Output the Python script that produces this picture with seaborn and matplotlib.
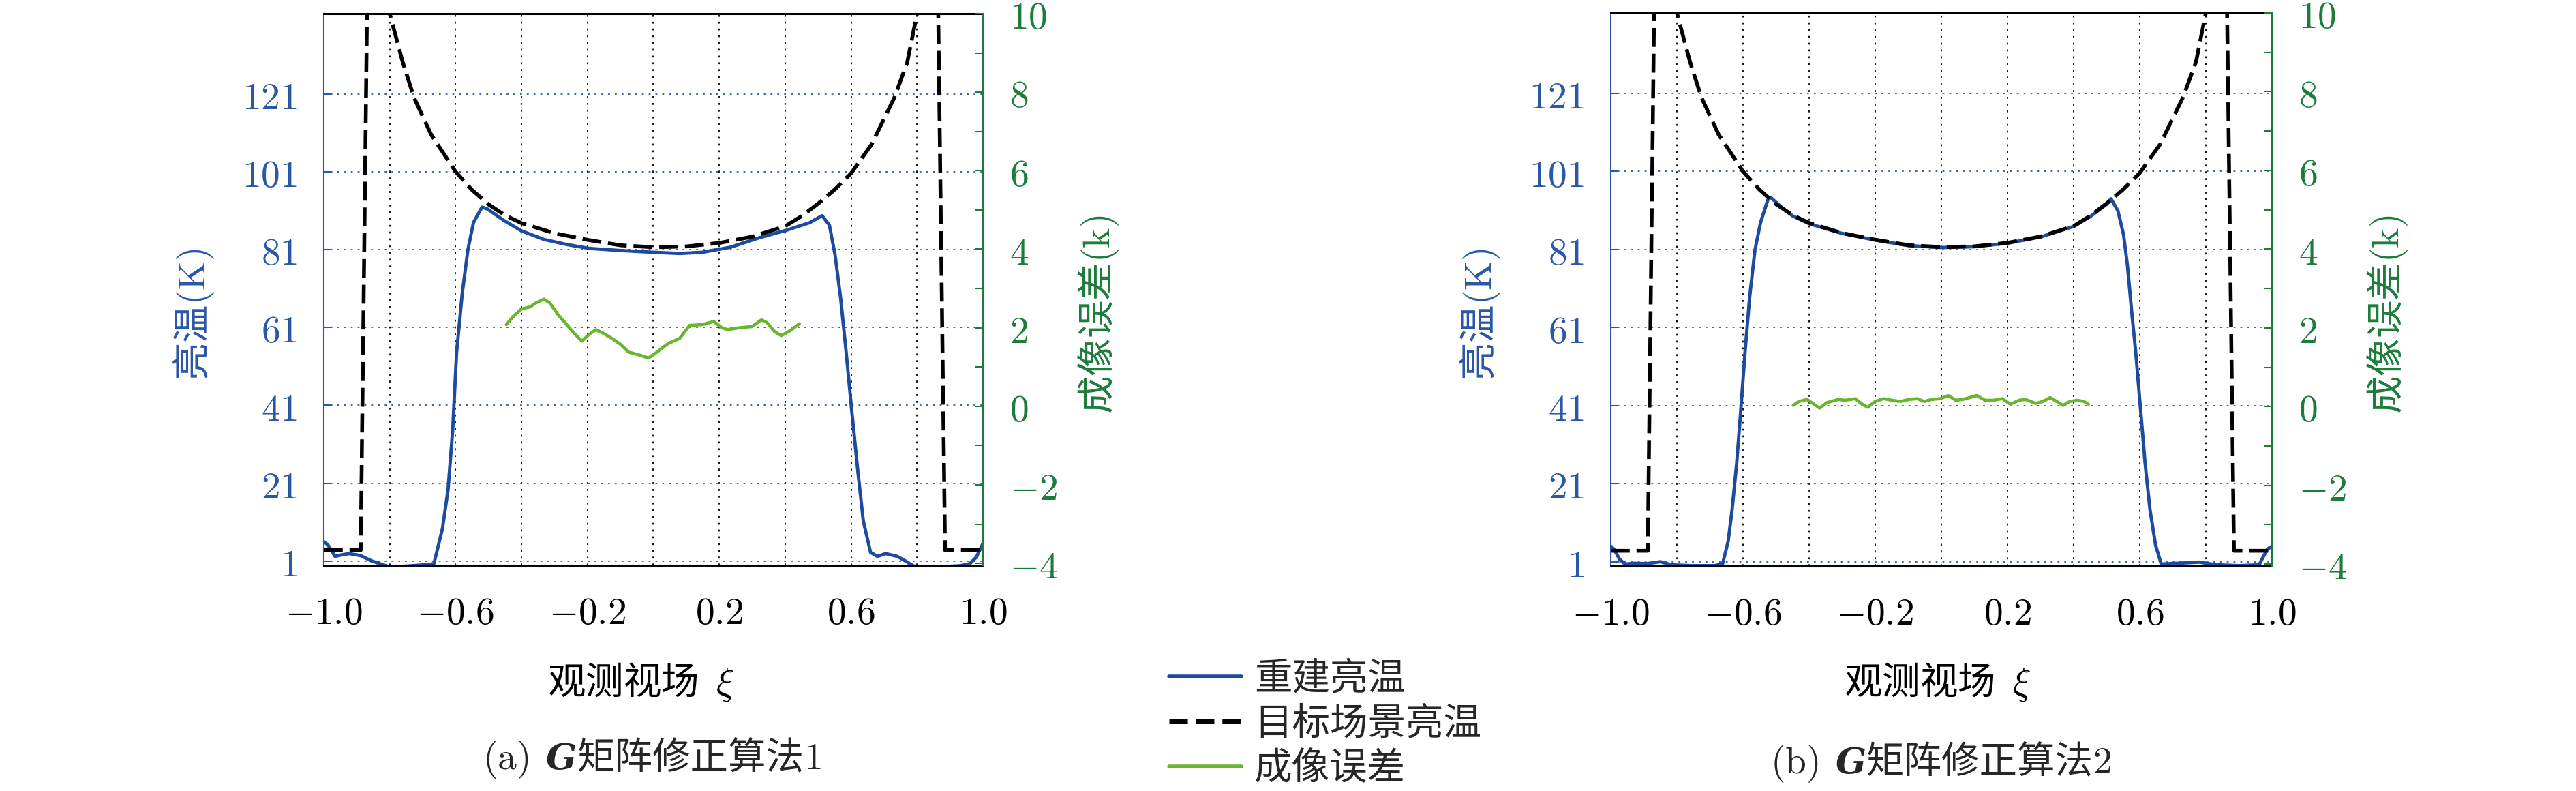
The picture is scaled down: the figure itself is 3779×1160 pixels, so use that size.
import matplotlib
matplotlib.use("Agg")
import matplotlib.pyplot as plt
from matplotlib.lines import Line2D
from matplotlib.offsetbox import TextArea, HPacker, AnnotationBbox
import seaborn as sns

# =========================
# Data
# =========================
# target scene brightness temperature (same scene in both panels)
target_x = [-1.0, -0.95, -0.888, -0.865, -0.80, -0.76, -0.726, -0.674, -0.60, -0.55,
            -0.50, -0.45, -0.40, -0.30, -0.20, -0.10, 0.00, 0.10, 0.20, 0.30,
            0.40, 0.45, 0.50, 0.55, 0.60, 0.662, 0.731, 0.77, 0.80, 0.86,
            0.885, 0.95, 1.0]
target_y = [3.8, 3.8, 3.8, 170.0, 141.6, 129.0, 120.0, 110.5, 101.0, 96.3,
            92.6, 89.8, 87.8, 85.2, 83.5, 82.1, 81.6, 81.8, 82.7, 84.3,
            87.0, 89.6, 92.8, 96.4, 100.6, 108.0, 120.0, 129.0, 141.6, 170.0,
            3.8, 3.8, 3.8]

# (a) reconstructed brightness temperature
recon_a_x = [-1.0, -0.988, -0.966, -0.945, -0.923, -0.889, -0.854, -0.80, -0.75, -0.70,
             -0.666, -0.64, -0.623, -0.609, -0.597, -0.58, -0.563, -0.546, -0.52, -0.503,
             -0.452, -0.40, -0.332, -0.263, -0.195, -0.109, 0.0, 0.08, 0.148, 0.234,
             0.32, 0.405, 0.474, 0.512, 0.534, 0.551, 0.568, 0.585, 0.602, 0.62,
             0.637, 0.659, 0.68, 0.705, 0.74, 0.765, 0.79, 0.85, 0.93, 0.96,
             0.98, 1.0]
recon_a_y = [6.0, 5.2, 2.2, 2.6, 2.9, 2.4, 1.0, -0.5, -0.3, 0.0,
             0.3, 9.3, 19.3, 34.5, 54.6, 69.7, 80.8, 87.9, 91.9, 91.4,
             88.4, 85.8, 83.6, 82.3, 81.3, 80.8, 80.3, 80.0, 80.3, 81.6,
             84.0, 86.0, 87.9, 89.7, 87.3, 79.8, 68.7, 54.6, 39.5, 24.4,
             11.3, 3.2, 2.2, 2.9, 2.2, 1.0, -0.3, -0.6, -0.2, 0.3,
             2.0, 5.5]

# (a) imaging error
err_a_x = [-0.446, -0.426, -0.40, -0.374, -0.357, -0.332, -0.314, -0.289, -0.263, -0.237,
           -0.217, -0.195, -0.174, -0.152, -0.126, -0.10, -0.075, -0.04, -0.015, 0.011,
           0.045, 0.08, 0.11, 0.148, 0.183, 0.208, 0.225, 0.26, 0.299, 0.328,
           0.345, 0.368, 0.388, 0.414, 0.443]
err_a_y = [2.08, 2.28, 2.48, 2.53, 2.63, 2.73, 2.63, 2.33, 2.08, 1.83,
           1.66, 1.83, 1.95, 1.86, 1.73, 1.58, 1.38, 1.30, 1.23, 1.38,
           1.60, 1.73, 2.06, 2.08, 2.16, 2.00, 1.95, 2.00, 2.03, 2.20,
           2.13, 1.90, 1.80, 1.92, 2.10]

# (b) reconstructed brightness temperature
recon_b_x = [-1.0, -0.99, -0.974, -0.957, -0.927, -0.892, -0.85, -0.816, -0.756, -0.687,
             -0.662, -0.645, -0.633, -0.619, -0.607, -0.594, -0.58, -0.564, -0.547, -0.525,
             -0.517, -0.482, -0.45, -0.40, -0.30, -0.20, -0.10, 0.0, 0.10, 0.20,
             0.30, 0.40, 0.45, 0.50, 0.513, 0.534, 0.551, 0.563, 0.576, 0.588,
             0.602, 0.616, 0.631, 0.648, 0.665, 0.713, 0.781, 0.833, 0.90, 0.961,
             0.986, 1.0]
recon_b_y = [5.0, 4.2, 1.7, 0.4, 0.6, 0.5, 1.0, 0.2, 0.0, 0.0,
             0.4, 6.2, 14.3, 26.4, 39.5, 54.6, 68.7, 80.8, 87.9, 93.7,
             94.4, 91.7, 89.6, 87.6, 85.1, 83.4, 82.0, 81.5, 81.7, 82.6,
             84.2, 86.9, 89.4, 92.6, 94.0, 90.9, 84.8, 76.8, 64.7, 54.6,
             40.5, 26.4, 14.3, 5.2, 0.4, 0.6, 0.9, 0.2, 0.0, 0.2,
             4.2, 5.0]

# (b) imaging error
err_b_x = [-0.448, -0.431, -0.406, -0.389, -0.368, -0.346, -0.312, -0.291, -0.26, -0.243,
           -0.223, -0.20, -0.175, -0.149, -0.124, -0.098, -0.073, -0.052, -0.03, -0.004,
           0.021, 0.044, 0.064, 0.086, 0.107, 0.132, 0.158, 0.184, 0.209, 0.235,
           0.255, 0.286, 0.307, 0.329, 0.349, 0.368, 0.389, 0.411, 0.431, 0.445]
err_b_y = [0.03, 0.13, 0.18, 0.08, -0.04, 0.10, 0.18, 0.16, 0.20, 0.08,
           -0.02, 0.13, 0.20, 0.16, 0.13, 0.18, 0.20, 0.13, 0.18, 0.20,
           0.28, 0.16, 0.18, 0.23, 0.28, 0.16, 0.16, 0.20, 0.06, 0.16,
           0.18, 0.08, 0.13, 0.23, 0.13, 0.03, 0.13, 0.16, 0.13, 0.06]

# axis ticks and labels
x_ticks = [-1.0, -0.8, -0.6, -0.4, -0.2, 0.0, 0.2, 0.4, 0.6, 0.8, 1.0]
x_tick_labels = ["$-1.0$", "", "$-0.6$", "", "$-0.2$", "", "$0.2$", "", "$0.6$", "", "$1.0$"]
left_ticks = [1, 21, 41, 61, 81, 101, 121]
right_ticks = [-4, -2, 0, 2, 4, 6, 8, 10]
right_minor = [-3, -1, 1, 3, 5, 7, 9]

left_label = "亮温$\\mathrm{(K)}$"
right_label = "成像误差$\\mathrm{(k)}$"
x_label = "观测视场  $\\xi$"
legend_labels = ["重建亮温", "目标场景亮温", "成像误差"]
captions = [("(a)", "矩阵修正算法", "1"), ("(b)", "矩阵修正算法", "2")]

# =========================
# Style
# =========================
sns.set_theme(style="white")
plt.rcParams["font.family"] = ["Noto Sans CJK SC", "DejaVu Sans"]
plt.rcParams["mathtext.fontset"] = "cm"

BLUE_LINE = "#1c4ba0"
BLUE_TEXT = "#2a57a6"
GREEN_LINE = "#6ab52f"
GREEN_TEXT = "#1d7c3b"
DOT = (0, (1.5, 4))
CJK_SIZE = 40
NUM_SIZE = 40

fig = plt.figure(figsize=(37.8, 11.6), dpi=100)

panels = [
    dict(rect=[0.12566, 0.28534, 0.25582, 0.69741],
         recon=(recon_a_x, recon_a_y), err=(err_a_x, err_a_y),
         xlab=0.2487, cap=(0.2529, 0.0397)),
    dict(rect=[0.62513, 0.28448, 0.25661, 0.69914],
         recon=(recon_b_x, recon_b_y), err=(err_b_x, err_b_y),
         xlab=0.7519, cap=(0.7532, 0.0345)),
]

for p in panels:
    ax = fig.add_axes(p["rect"])
    ax2 = ax.twinx()

    sns.lineplot(x=p["recon"][0], y=p["recon"][1], ax=ax, color=BLUE_LINE,
                 linewidth=3.5, sort=False, estimator=None, legend=False)
    sns.lineplot(x=target_x, y=target_y, ax=ax, color="black",
                 linewidth=4.0, linestyle=(0, (5, 1.8)), sort=False,
                 estimator=None, legend=False)
    sns.lineplot(x=p["err"][0], y=p["err"][1], ax=ax2, color=GREEN_LINE,
                 linewidth=3.3, sort=False, estimator=None, legend=False)

    ax.set_xlim(-1.0, 1.0)
    ax.set_ylim(-0.1, 141.6)
    ax2.set_ylim(-4.05, 10.0)

    ax.set_xticks(x_ticks)
    ax.set_xticklabels(x_tick_labels)
    ax.set_yticks(left_ticks)
    ax.set_yticklabels([f"${v}$" for v in left_ticks])
    ax2.set_yticks(right_ticks)
    ax2.set_yticklabels([f"${v}$" for v in right_ticks])
    ax2.set_yticks(right_minor, minor=True)

    ax.tick_params(axis="x", direction="in", length=7, width=1.5, colors="black",
                   labelsize=NUM_SIZE, pad=30)
    ax.tick_params(axis="y", direction="in", length=7, width=1.5, colors=BLUE_TEXT,
                   labelsize=NUM_SIZE, pad=28)
    ax2.tick_params(axis="y", which="both", direction="in", length=8, width=1.5,
                    colors=GREEN_TEXT, labelsize=NUM_SIZE, pad=28)

    ax.yaxis.grid(True, color=BLUE_TEXT, linestyle=DOT, linewidth=1.3)
    ax.xaxis.grid(True, color="black", linestyle=DOT, linewidth=1.3)
    ax2.grid(False)

    ax.spines["left"].set_color(BLUE_TEXT)
    ax.spines["left"].set_linewidth(1.5)
    ax.spines["right"].set_visible(False)
    for s in ["top", "bottom"]:
        ax.spines[s].set_color("black")
        ax.spines[s].set_linewidth(2.2)
    ax2.spines["right"].set_color(GREEN_TEXT)
    ax2.spines["right"].set_linewidth(1.5)
    for s in ["left", "top", "bottom"]:
        ax2.spines[s].set_visible(False)

    ax.set_xlabel("")
    ax.set_ylabel("")
    ax2.set_ylabel("")
    ax.text(-0.198, 0.455, left_label, transform=ax.transAxes, rotation=90,
            ha="center", va="center", color=BLUE_TEXT, fontsize=CJK_SIZE)
    ax.text(1.175, 0.455, right_label, transform=ax.transAxes, rotation=90,
            ha="center", va="center", color=GREEN_TEXT, fontsize=CJK_SIZE)
    fig.text(p["xlab"], 0.1379, x_label, ha="center", va="center",
             color="black", fontsize=CJK_SIZE)

# =========================
# Captions (a)/(b)
# =========================
for p, (tag, words, num) in zip(panels, captions):
    g = HPacker(children=[
        TextArea("G", textprops=dict(family="DejaVu Serif", weight="bold",
                                     style="italic", size=CJK_SIZE - 2)),
        TextArea(words, textprops=dict(size=CJK_SIZE)),
        TextArea(f"${num}$", textprops=dict(size=NUM_SIZE)),
    ], align="baseline", pad=0, sep=0)
    box = HPacker(children=[TextArea(f"$\\mathrm{{{tag}}}$",
                                     textprops=dict(size=NUM_SIZE)), g],
                  align="baseline", pad=0, sep=18)
    ab = AnnotationBbox(box, p["cap"], xycoords="figure fraction",
                        box_alignment=(0.5, 0.5), frameon=False, pad=0)
    fig.add_artist(ab)

# =========================
# Legend
# =========================
handles = [
    Line2D([], [], color=BLUE_LINE, linewidth=4.0),
    Line2D([], [], color="black", linewidth=5.0, linestyle=(0, (3.9, 1.7))),
    Line2D([], [], color=GREEN_LINE, linewidth=4.0),
]
fig.legend(handles, legend_labels, loc="center left",
           bbox_to_anchor=(0.4537, 0.0849), bbox_transform=fig.transFigure,
           frameon=False, fontsize=CJK_SIZE, handlelength=1.9,
           handletextpad=0.35, labelspacing=0.15, borderpad=0, borderaxespad=0)

fig.savefig("out.png", dpi=100)
